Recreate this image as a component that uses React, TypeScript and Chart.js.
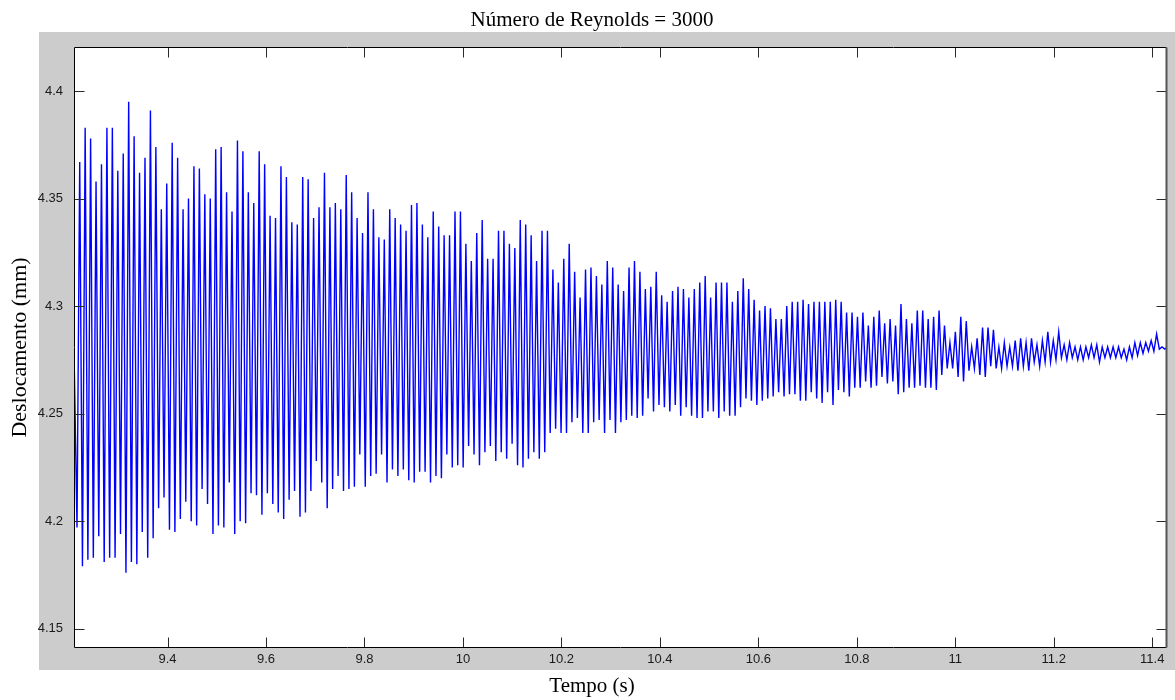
import { useEffect, useRef } from "react";
import { Chart, registerables } from "chart.js";

Chart.register(...registerables);

const titleText = "Número de Reynolds = 3000";
const xLabel = "Tempo (s)";
const yLabel = "Deslocamento (mm)";

const xTickValues = [9.4, 9.6, 9.8, 10, 10.2, 10.4, 10.6, 10.8, 11, 11.2, 11.4];
const yTickValues = [4.15, 4.2, 4.25, 4.3, 4.35, 4.4];
const xMin = 9.21;
const xMax = 11.43;
const yMin = 4.141;
const yMax = 4.4205;

// signal: starting value, then alternating trough / peak of each oscillation
const startValue = 4.28;
const firstTroughTime = 9.2161;
const halfPeriod = 0.0055234;

const troughs = [
  4.197, 4.179, 4.182, 4.183, 4.193, 4.181, 4.183, 4.183, 4.194, 4.176,
  4.181, 4.180, 4.195, 4.183, 4.192, 4.206, 4.211, 4.196, 4.195, 4.201,
  4.209, 4.200, 4.198, 4.215, 4.208, 4.194, 4.198, 4.197, 4.218, 4.194,
  4.200, 4.199, 4.213, 4.212, 4.203, 4.213, 4.208, 4.204, 4.201, 4.210,
  4.214, 4.202, 4.204, 4.214, 4.228, 4.218, 4.206, 4.215, 4.221, 4.214,
  4.215,
  4.216, 4.231, 4.216, 4.221, 4.222, 4.231, 4.218, 4.224, 4.221, 4.224,
  4.219, 4.218, 4.223, 4.223, 4.218, 4.221, 4.220, 4.231, 4.225, 4.226,
  4.225, 4.235, 4.231, 4.226, 4.232, 4.235, 4.228, 4.232, 4.229, 4.236,
  4.226, 4.225, 4.229, 4.232, 4.229, 4.232, 4.241, 4.243, 4.241, 4.241,
  4.246, 4.248, 4.241, 4.241, 4.246, 4.247, 4.241, 4.247, 4.241, 4.246,
  4.247, 4.249, 4.248, 4.249, 4.257, 4.251, 4.254, 4.253, 4.251, 4.254,
  4.249, 4.253, 4.249, 4.248, 4.248, 4.251, 4.251, 4.248, 4.251, 4.249,
  4.249, 4.253, 4.257, 4.256, 4.254, 4.256, 4.257, 4.258, 4.260, 4.258,
  4.259, 4.259, 4.256, 4.256, 4.260, 4.257, 4.255, 4.260, 4.254, 4.261,
  4.260, 4.258, 4.262, 4.262, 4.265, 4.262, 4.263, 4.267, 4.264, 4.265,
  4.259,
  4.260, 4.262, 4.262, 4.263, 4.262, 4.262, 4.261, 4.268, 4.271, 4.271,
  4.267, 4.265, 4.270, 4.271, 4.268, 4.267, 4.272, 4.271, 4.271, 4.272,
  4.272, 4.270, 4.272, 4.270, 4.274, 4.272, 4.274, 4.274, 4.275, 4.276,
  4.275, 4.276, 4.275, 4.275, 4.276, 4.276, 4.274, 4.276, 4.276, 4.276,
  4.276, 4.275, 4.276, 4.277, 4.278, 4.279, 4.279, 4.280, 4.280,
];

const peaks = [
  4.367, 4.383, 4.378, 4.358, 4.366, 4.383, 4.383, 4.363, 4.371, 4.395,
  4.379, 4.362, 4.369, 4.391, 4.374, 4.345, 4.357, 4.376, 4.369, 4.345,
  4.350, 4.365, 4.364, 4.352, 4.350, 4.373, 4.374, 4.353, 4.344, 4.377,
  4.372, 4.353, 4.348, 4.372, 4.366, 4.342, 4.341, 4.365, 4.360, 4.339,
  4.338, 4.360, 4.359, 4.341, 4.346, 4.362, 4.346, 4.348, 4.345, 4.361,
  4.353, 4.341, 4.334, 4.353, 4.345, 4.332, 4.331, 4.345, 4.341, 4.338,
  4.335, 4.347, 4.348, 4.338, 4.332, 4.344, 4.337, 4.333, 4.333, 4.344,
  4.344, 4.329, 4.321, 4.334, 4.340, 4.322, 4.322, 4.335, 4.335, 4.329,
  4.327, 4.340, 4.338, 4.333, 4.321, 4.335, 4.335, 4.317, 4.311, 4.322,
  4.329, 4.316, 4.304, 4.317, 4.318, 4.314, 4.310, 4.321, 4.318, 4.310,
  4.307,
  4.318, 4.321, 4.316, 4.308, 4.309, 4.316, 4.305, 4.302, 4.307, 4.309,
  4.308, 4.304, 4.308, 4.311, 4.314, 4.304, 4.311, 4.311, 4.311, 4.302,
  4.307, 4.313, 4.308, 4.303, 4.298, 4.300, 4.299, 4.294, 4.294, 4.300,
  4.302, 4.302, 4.303, 4.301, 4.302, 4.302, 4.302, 4.302, 4.303, 4.302,
  4.297, 4.297, 4.295, 4.297, 4.291, 4.295, 4.298, 4.292, 4.294, 4.291,
  4.301,
  4.294, 4.292, 4.298, 4.298, 4.294, 4.295, 4.298, 4.291, 4.283, 4.288,
  4.295, 4.293, 4.281, 4.285, 4.290, 4.290, 4.289, 4.281, 4.283, 4.281,
  4.284, 4.285, 4.283, 4.285, 4.282, 4.284, 4.288, 4.284, 4.288, 4.282,
  4.283, 4.281, 4.281, 4.281, 4.282, 4.282, 4.281, 4.281, 4.281, 4.281,
  4.280, 4.281, 4.283, 4.283, 4.283, 4.284, 4.287, 4.281, 4.281,
];

function buildPoints() {
  const pts: { x: number; y: number }[] = [{ x: xMin, y: startValue }];
  troughs.forEach((v, i) => {
    pts.push({ x: firstTroughTime + 2 * i * halfPeriod, y: v });
    if (i < peaks.length) {
      pts.push({ x: firstTroughTime + (2 * i + 1) * halfPeriod, y: peaks[i] });
    }
  });
  return pts;
}

const serif = "'Liberation Serif', 'Times New Roman', serif";
const sans = "'Liberation Sans', Arial, sans-serif";

const matlabFrame = {
  id: "matlabFrame",
  beforeDraw(chart: any) {
    const { ctx, chartArea: a, width, height } = chart;
    ctx.save();
    ctx.fillStyle = "#ffffff";
    ctx.fillRect(0, 0, width, height);
    ctx.fillStyle = "#cccccc";
    ctx.fillRect(39, 32, width - 39, 638);
    ctx.fillStyle = "#ffffff";
    ctx.fillRect(a.left, a.top, a.right - a.left, a.bottom - a.top);
    ctx.restore();
  },
  afterDraw(chart: any) {
    const { ctx, chartArea: a } = chart;
    const xs = chart.scales.x;
    const ys = chart.scales.y;
    const L = Math.round(a.left) + 0.5;
    const R = Math.round(a.right) - 0.5;
    const T = Math.round(a.top) + 0.5;
    const B = Math.round(a.bottom) - 0.5;
    ctx.save();
    ctx.lineWidth = 1;
    ctx.strokeStyle = "#2a2a2a";
    ctx.beginPath();
    xs.ticks.forEach((t: any) => {
      const px = Math.round(xs.getPixelForValue(t.value)) + 0.5;
      ctx.moveTo(px, B);
      ctx.lineTo(px, B - 10);
      ctx.moveTo(px, T);
      ctx.lineTo(px, T + 10);
    });
    ys.ticks.forEach((t: any) => {
      const py = Math.round(ys.getPixelForValue(t.value)) + 0.5;
      ctx.moveTo(L, py);
      ctx.lineTo(L + 10, py);
      ctx.moveTo(R, py);
      ctx.lineTo(R - 10, py);
    });
    ctx.stroke();
    ctx.strokeStyle = "#000000";
    ctx.beginPath();
    ctx.moveTo(R, T);
    ctx.lineTo(L, T);
    ctx.lineTo(L, B);
    ctx.lineTo(R, B);
    ctx.stroke();
    ctx.strokeStyle = "#555555";
    ctx.lineWidth = 2;
    ctx.beginPath();
    ctx.moveTo(R, T);
    ctx.lineTo(R, B);
    ctx.stroke();
    ctx.restore();
  },
};

export default function App() {
  const canvasRef = useRef<HTMLCanvasElement | null>(null);

  useEffect(() => {
    const canvas = canvasRef.current;
    if (!canvas) return;
    const chart = new Chart(canvas, {
      type: "line",
      data: {
        datasets: [
          {
            data: buildPoints(),
            borderColor: "#0000ff",
            borderWidth: 1.4,
            pointRadius: 0,
            tension: 0,
            fill: false,
          },
        ],
      },
      options: {
        animation: false,
        responsive: false,
        maintainAspectRatio: false,
        events: [],
        layout: { autoPadding: false, padding: { left: 17, right: 8, top: 0, bottom: 0 } },
        plugins: {
          legend: { display: false },
          tooltip: { enabled: false },
          title: {
            display: true,
            text: titleText,
            color: "#000000",
            font: { family: serif, size: 21, weight: "normal", lineHeight: 1.2 },
            padding: { top: 8, bottom: 13.8 },
          },
          subtitle: {
            display: true,
            position: "bottom",
            text: xLabel,
            color: "#000000",
            font: { family: serif, size: 21, weight: "normal", lineHeight: 1.2 },
            padding: { top: 0, bottom: 1.4 },
          },
        },
        scales: {
          x: {
            type: "linear",
            min: xMin,
            max: xMax,
            afterBuildTicks: (scale: any) => {
              scale.ticks = xTickValues.map((v) => ({ value: v }));
            },
            afterFit: (scale: any) => {
              scale.height = 25.4;
            },
            grid: { display: false, drawTicks: false },
            border: { display: false },
            ticks: {
              color: "#1a1a1a",
              font: { family: sans, size: 13 },
              padding: 4,
              maxRotation: 0,
              autoSkip: false,
              callback: (v: any) => String(v),
            },
          },
          y: {
            type: "linear",
            min: yMin,
            max: yMax,
            afterBuildTicks: (scale: any) => {
              scale.ticks = yTickValues.map((v) => ({ value: v }));
            },
            afterFit: (scale: any) => {
              scale.width = 57;
            },
            grid: { display: false, drawTicks: false },
            border: { display: false },
            title: {
              display: true,
              text: yLabel,
              color: "#000000",
              font: { family: serif, size: 22, lineHeight: 1.2 },
              padding: { top: -9.7, bottom: 0 },
            },
            ticks: {
              color: "#1a1a1a",
              font: { family: sans, size: 13 },
              padding: 11,
              autoSkip: false,
              callback: (v: any) => String(v),
            },
          },
        },
      },
      plugins: [matlabFrame],
    });
    return () => chart.destroy();
  }, []);

  return (
    <div
      style={{
        position: "fixed",
        left: 0,
        top: 0,
        width: 1175,
        height: 700,
        background: "#ffffff",
      }}
    >
      <canvas ref={canvasRef} width={1175} height={700} style={{ display: "block" }} />
    </div>
  );
}
